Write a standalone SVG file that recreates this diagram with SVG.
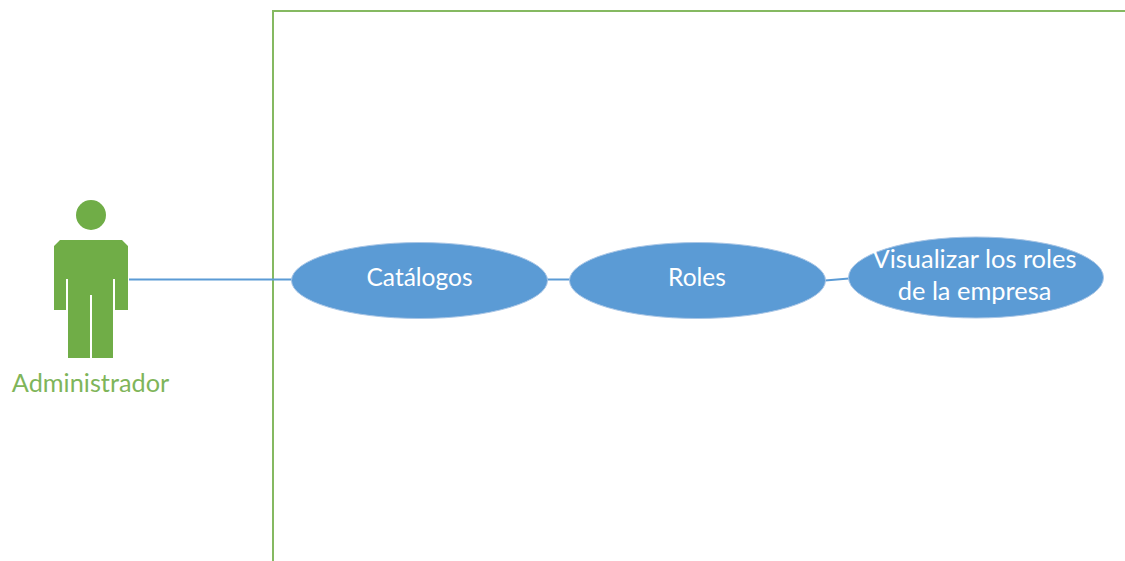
<svg xmlns="http://www.w3.org/2000/svg" width="1125" height="561" viewBox="0 0 1125 561">
<style>
.uc{fill:#5b9bd5;stroke:#a9c6e6;stroke-width:1}
.t{font-family:Lato,"Open Sans","Liberation Sans",sans-serif;font-size:24.500px;fill:#fff;text-anchor:middle}
.v{font-size:25.400px}
.c{stroke:#5b9bd5;stroke-width:2;fill:none}
</style>
<rect width="1125" height="561" fill="#fff"/>
<g id="boundary"><path d="M273 561V11H1125" fill="none" stroke="#85b961" stroke-width="2"/></g>
<g id="connectors">
<path class="c" d="M129 279.500H292"/>
<path class="c" d="M547 279.500H570"/>
<path class="c" d="M825 280.500L849 278.500"/>
</g>
<g id="actor">
<circle cx="91" cy="215" r="15" fill="#70ad47"/>
<path d="M60 240H122L128 246V310H115V279H113V358H92V295H90V358H68V279H66V310H54V246Z" fill="#70ad47"/>
<text x="90.500" y="392" font-family="Lato,Open Sans,Liberation Sans,sans-serif" font-size="25.300" fill="#7fb55a" text-anchor="middle">Administrador</text>
</g>
<g id="catalogos"><ellipse class="uc" cx="419.500" cy="280.500" rx="128" ry="38"/><text class="t" x="419.500" y="286">Catálogos</text></g>
<g id="roles"><ellipse class="uc" cx="697.500" cy="280.500" rx="128" ry="38"/><text class="t" x="697" y="286">Roles</text></g>
<g id="visualizar"><ellipse class="uc" cx="976" cy="277.500" rx="127.500" ry="40.500"/><text class="t v" x="974.500" y="268">Visualizar los roles</text><text class="t v" x="974.500" y="300">de la empresa</text></g>
</svg>
